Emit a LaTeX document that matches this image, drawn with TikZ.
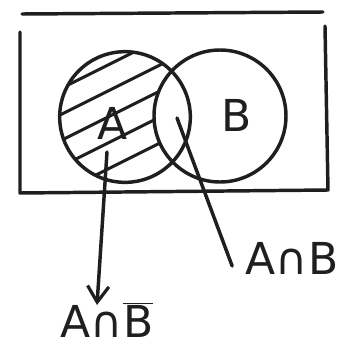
\documentclass[tikz,border=0pt]{standalone}
\usepackage{fontspec}
\setmainfont{DejaVu Sans}
\usetikzlibrary{arrows.meta}
\begin{document}
\begin{tikzpicture}[x=0.75pt,y=-0.75pt,line cap=round,line join=round,
  ink/.style={draw=black!88,line width=2.6pt},
  setcirc/.style={circle,ink,minimum size=98pt,inner sep=0pt},
  setlbl/.style={font=\fontsize{33}{33}\selectfont,text=black!88,inner sep=0pt}]
\useasboundingbox (0,0) rectangle (348,354);
% frame
\draw[ink] (22,14) -- (323,12);
\draw[ink] (20,32) -- (20,193) -- (328,190) -- (325,26);
% hatching of A without B
\begin{scope}
\clip (125,117) circle (48.75pt);
\foreach \c in {88,114,140,166,192}{\draw[ink,line width=2.2pt] (40,\c+11) -- (200,\c-69);}
\end{scope}
\fill[white] (220,116) circle (49.5pt);
\node[setcirc] (setA) at (125,117) {};
\node[setcirc,minimum size=99pt] (setB) at (220,116) {};
\node[setlbl] (lblA) at (113,123) {A};
\node[setlbl] (lblB) at (237,115) {B};
% pointers
\coordinate (inA) at (107,152);
\coordinate (inAB) at (177,118);
\node[setlbl] (lblAnotB) at (107,320) {A∩$\overline{\hbox{B}}$};
\node[setlbl] (lblAB) at (292,258) {A∩B};
\draw[ink,-{Straight Barb[length=12pt,width=16pt,line width=2.4pt]}] (inA) -- ([yshift=-2pt]lblAnotB.north-|97,0);
\draw[ink] (inAB) -- ([xshift=-10pt]lblAB.west|-0,266);
\end{tikzpicture}
\end{document}
